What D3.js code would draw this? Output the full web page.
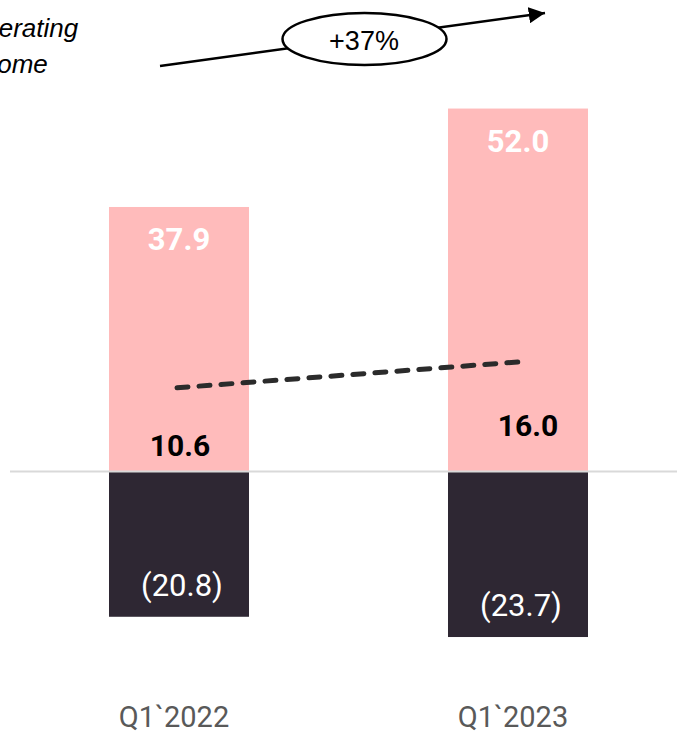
<!DOCTYPE html>
<html>
<head>
<meta charset="utf-8">
<script src="https://cdn.jsdelivr.net/npm/d3@7"></script>
<style>
  html, body { margin: 0; padding: 0; background: #fff; }
  svg { display: block; }
</style>
</head>
<body>
<script>
// chart data
var categories = ["Q1`2022", "Q1`2023"];
var revenue = [37.9, 52.0];
var costs = [-20.8, -23.7];
var operatingIncome = ["10.6", "16.0"];
var trendValues = [12.0, 15.7];
var growthLabel = "+37%";
var titleLines = ["Operating", "income"];

// Setting canvas size
var width = 677,
  height = 737;

var svg = d3.select("body")
  .append("svg")
  .attr("width", width)
  .attr("height", height);

var x = d3.scaleBand()
  .domain(categories)
  .range([109, 588])
  .paddingInner(0.587)
  .paddingOuter(0);

var y = d3.scaleLinear()
  .domain([-30, 60])
  .range([681, 52.7]);

var cx = function (d) { return x(d) + x.bandwidth() / 2; };

// positive bars
svg.append("g")
  .selectAll("rect")
  .data(categories)
  .enter().append("rect")
  .attr("x", function (d) { return x(d); })
  .attr("y", function (d, i) { return y(revenue[i]); })
  .attr("width", x.bandwidth())
  .attr("height", function (d, i) { return y(0) - y(revenue[i]); })
  .style("fill", "#FFBBBB");

// negative bars
svg.append("g")
  .selectAll("rect")
  .data(categories)
  .enter().append("rect")
  .attr("x", function (d) { return x(d); })
  .attr("y", y(0))
  .attr("width", x.bandwidth())
  .attr("height", function (d, i) { return y(costs[i]) - y(0); })
  .style("fill", "#2E2733");

// zero line
svg.append("line")
  .attr("x1", 10)
  .attr("x2", width)
  .attr("y1", y(0))
  .attr("y2", y(0))
  .style("stroke", "#D9D9D9")
  .style("stroke-width", 2);

// revenue labels
svg.append("g")
  .selectAll("text")
  .data(categories)
  .enter().append("text")
  .attr("x", cx)
  .attr("y", function (d, i) { return y(revenue[i]) + 43; })
  .attr("text-anchor", "middle")
  .style("font-family", "Roboto")
  .style("font-weight", "bold")
  .style("font-size", "31px")
  .style("fill", "#fff")
  .text(function (d, i) { return revenue[i].toFixed(1); });

// cost labels
svg.append("g")
  .selectAll("text")
  .data(categories)
  .enter().append("text")
  .attr("x", function (d) { return cx(d) + 3; })
  .attr("y", function (d, i) { return y(costs[i]) - 21; })
  .attr("text-anchor", "middle")
  .style("font-family", "Roboto")
  .style("font-size", "31px")
  .style("fill", "#fff")
  .text(function (d, i) { return "(" + Math.abs(costs[i]).toFixed(1) + ")"; });

// operating income labels
var incomeOffset = [[1, -16], [10, -36]];
svg.append("g")
  .selectAll("text")
  .data(categories)
  .enter().append("text")
  .attr("x", function (d, i) { return cx(d) + incomeOffset[i][0]; })
  .attr("y", function (d, i) { return y(0) + incomeOffset[i][1]; })
  .attr("text-anchor", "middle")
  .style("font-family", "Roboto")
  .style("font-weight", "bold")
  .style("font-size", "30px")
  .style("fill", "#000")
  .text(function (d, i) { return operatingIncome[i]; });

// dashed trend line
var line = d3.line()
  .x(function (d, i) { return cx(categories[i]) + (i === 0 ? -2 : 0); })
  .y(function (d) { return y(d); });

svg.append("path")
  .datum(trendValues)
  .attr("d", line)
  .style("fill", "none")
  .style("stroke", "#2B2B2B")
  .style("stroke-width", 5)
  .style("stroke-linecap", "round")
  .style("stroke-dasharray", "11 11.05");

// category axis
var xAxis = d3.axisBottom(x).tickSize(0).tickPadding(0);
var axisG = svg.append("g")
  .attr("transform", "translate(0,706)")
  .call(xAxis);
axisG.select(".domain").remove();
axisG.selectAll("text")
  .attr("dx", -5)
  .style("font-family", "Roboto")
  .style("font-size", "29px")
  .style("fill", "#595959");

// title (clipped at the left edge, as in the source slide)
svg.append("g")
  .selectAll("text")
  .data(titleLines)
  .enter().append("text")
  .attr("x", -36)
  .attr("y", function (d, i) { return 37 + i * 36; })
  .style("font-family", "Liberation Sans, Arial")
  .style("font-style", "italic")
  .style("font-size", "26px")
  .style("fill", "#000")
  .text(function (d) { return d; });

// growth arrow
svg.append("defs").append("marker")
  .attr("id", "arrow")
  .attr("viewBox", "0 0 10 10")
  .attr("refX", 10)
  .attr("refY", 5)
  .attr("markerWidth", 6.5)
  .attr("markerHeight", 6.5)
  .attr("markerUnits", "strokeWidth")
  .attr("orient", "auto")
  .append("path")
  .attr("d", "M0,0L10,5L0,10Z")
  .style("fill", "#000");

svg.append("line")
  .attr("x1", 160)
  .attr("y1", 66)
  .attr("x2", 545)
  .attr("y2", 13)
  .style("stroke", "#000")
  .style("stroke-width", 2.5)
  .attr("marker-end", "url(#arrow)");

svg.append("ellipse")
  .attr("cx", 364.5)
  .attr("cy", 39)
  .attr("rx", 82)
  .attr("ry", 26)
  .style("fill", "#fff")
  .style("stroke", "#000")
  .style("stroke-width", 2.5);

svg.append("text")
  .attr("x", 364)
  .attr("y", 50)
  .attr("text-anchor", "middle")
  .style("font-family", "Liberation Sans, Arial")
  .style("font-size", "27px")
  .style("fill", "#000")
  .text(growthLabel);
</script>
</body>
</html>
